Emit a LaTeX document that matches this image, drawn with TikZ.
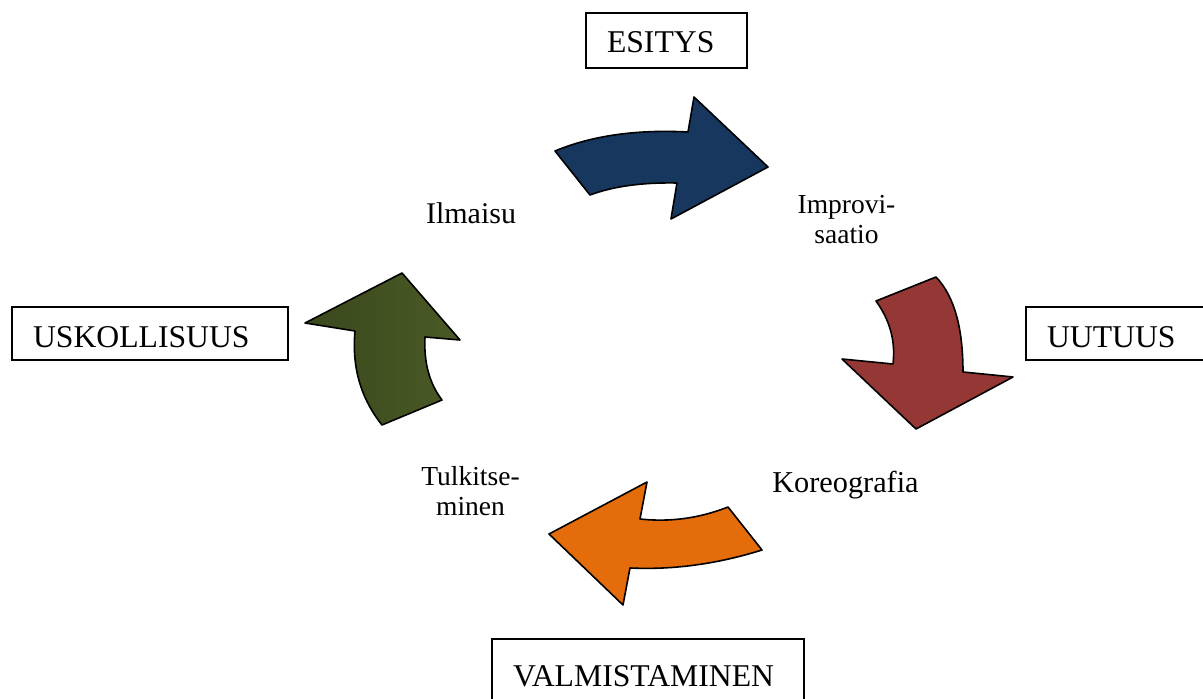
\documentclass[tikz,border=0pt]{standalone}
\usepackage{fontspec}
\setmainfont{Liberation Serif}
\definecolor{arrblue}{HTML}{17375E}
\definecolor{arrred}{HTML}{953735}
\definecolor{arrorange}{HTML}{E46C0A}
\definecolor{arrgreenL}{HTML}{3A481C}
\definecolor{arrgreenR}{HTML}{4A5A26}
\tikzset{
  boxst/.style={draw=black, line width=2pt, rectangle, anchor=north west, inner ysep=0pt, inner xsep=21pt, align=left, font=\fontsize{31.7}{36}\selectfont},
  arrowst/.style={draw=black, line width=1.6pt, line join=round},
  lbl/.style={anchor=base, inner sep=0pt, align=center},
}
\begin{document}
\begin{tikzpicture}[x=1pt,y=-1pt]
\useasboundingbox (0,0) rectangle (1203,699);
\clip (0,0) rectangle (1203,699);
% boxes
\node[boxst, text width=119pt, text height=39pt, text depth=16pt] (esitys) at (585,12) {ESITYS};
\node[boxst, text width=234pt, text height=40pt, text depth=13pt] (usk) at (11,306) {USKOLLISUUS};
\node[boxst, text width=143pt, text height=40pt, text depth=13pt] (uutuus) at (1025,306) {UUTUUS};
\node[boxst, text width=270pt, text height=47pt, text depth=30pt] (valm) at (491,638) {VALMISTAMINEN};
% arrows
\path[arrowst, fill=arrblue] (555,151) .. controls (591.7,135.7) and (636,129.3) .. (688,132) -- (694,97) -- (768,167) -- (671,219) -- (677,183) .. controls (642.3,182.3) and (613.3,186.3) .. (590,195) -- cycle;
\path[arrowst, fill=arrred] (876,301) -- (936,277) .. controls (954,295.7) and (963,327.3) .. (963,372) -- (1013,377) -- (916,429) -- (842,359) -- (893,364) .. controls (895.7,341.3) and (890,320.3) .. (876,301) -- cycle;
\path[arrowst, fill=arrorange] (728,507) -- (762,550) .. controls (717.3,564) and (673.3,570) .. (630,568) -- (623,605) -- (549,534) -- (647,482) -- (640,519) .. controls (670,522.3) and (699.3,518.3) .. (728,507) -- cycle;
\path[arrowst, left color=arrgreenL, right color=arrgreenR] (382,425) -- (442,400) .. controls (429.3,383.3) and (423.7,362.3) .. (425,337) -- (460,340) -- (402,273) -- (305,323) -- (355,331) .. controls (351.7,367) and (360.7,398.3) .. (382,425) -- cycle;
% labels
\node[lbl, font=\fontsize{30}{30}\selectfont] (ilmaisu) at (471,223) {Ilmaisu};
\node[lbl, font=\fontsize{27.5}{30}\selectfont] (improv) at (846.5,243) {Improvi-\\saatio};
\node[lbl, font=\fontsize{30.3}{30}\selectfont] (koreo) at (845.5,492) {Koreografia};
\node[lbl, font=\fontsize{27.5}{30}\selectfont] (tulk) at (470.5,515) {Tulkitse-\\minen};
\end{tikzpicture}
\end{document}
